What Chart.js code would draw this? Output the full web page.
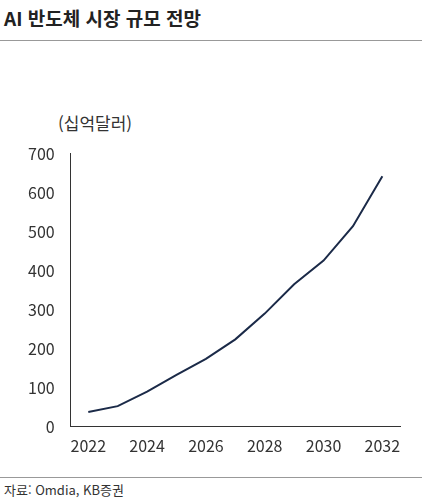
<!DOCTYPE html>
<html lang="ko">
<head>
<meta charset="UTF-8">
<script src="https://cdn.jsdelivr.net/npm/chart.js"></script>
<style>
  body { margin: 0; width: 422px; height: 500px; background: #fff; font-family: 'Noto Sans CJK KR', sans-serif; position: relative; }
  .title { position: absolute; left: 4px; top: 4px; font-size: 19px; font-weight: bold; color: #222; }
  .rule { position: absolute; left: 0; width: 422px; border-top: 1px solid #999; }
  .unit { position: absolute; left: 58px; top: 110px; font-size: 17px; color: #333; }
  .source { position: absolute; left: 4px; top: 480px; font-size: 13px; color: #333; }
  .chart-box { position: absolute; left: 18px; top: 134px; width: 392px; height: 326px; }
</style>
</head>
<body>
  <div class="title">AI 반도체 시장 규모 전망</div>
  <div class="rule" style="top:40px"></div>
  <div class="unit">(십억달러)</div>
  <div class="chart-box"><canvas id="c"></canvas></div>
  <div class="rule" style="top:477px"></div>
  <div class="source">자료: Omdia, KB증권</div>
<script>
const years = [2022, 2023, 2024, 2025, 2026, 2027, 2028, 2029, 2030, 2031, 2032];
const marketSize = [38, 53, 90, 133, 174, 224, 290, 365, 426, 514, 642];
const yTicks = [0, 100, 200, 300, 400, 500, 600, 700];

new Chart(document.getElementById("c"), {
  type: "line",
  data: {
    labels: years,
    datasets: [{
      data: marketSize,
      borderColor: "#1b2a48",
      borderWidth: 2,
      pointRadius: 0,
      tension: 0,
      fill: false
    }]
  },
  options: {
    responsive: true,
    maintainAspectRatio: false,
    animation: false,
    layout: { padding: { right: 10, top: 6 } },
    plugins: { legend: { display: false }, tooltip: { enabled: false } },
    scales: {
      x: {
        type: "linear",
        min: 2021.4, max: 2032.6,
        afterBuildTicks: (axis) => { axis.ticks = years.filter(y => y % 2 === 0).map(v => ({ value: v })); },
        grid: { display: false, drawTicks: true, tickLength: 6, color: "#333" },
        border: { color: "#333", width: 1 },
        ticks: { color: "#333", font: { size: 16, family: "'Noto Sans CJK KR'" }, padding: 4, callback: v => String(v) }
      },
      y: {
        min: 0, max: 700,
        afterBuildTicks: (axis) => { axis.ticks = yTicks.map(v => ({ value: v })); },
        grid: { display: false, drawTicks: true, tickLength: 6, color: "#333" },
        border: { color: "#333", width: 1 },
        ticks: { color: "#333", font: { size: 16, family: "'Noto Sans CJK KR'" }, padding: 10 }
      }
    }
  }
});
</script>
</body>
</html>
